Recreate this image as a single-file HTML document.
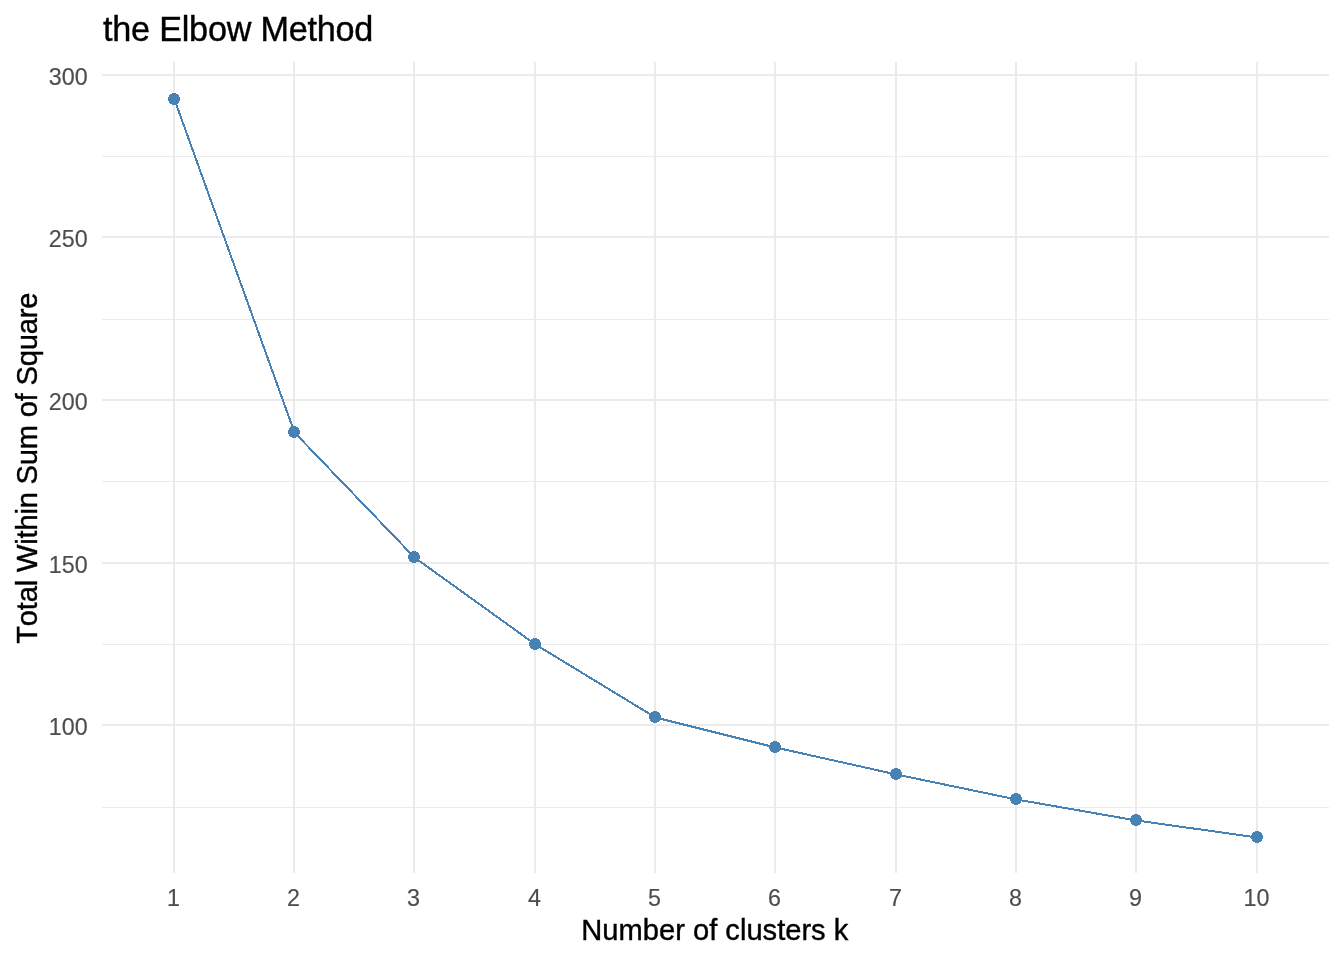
<!DOCTYPE html>
<html lang="en"><head><meta charset="utf-8"><title>the Elbow Method</title>
<style>
html,body{margin:0;padding:0;background:#fff;}
body{width:1344px;height:960px;overflow:hidden;}
svg{display:block;}
text{font-family:"Liberation Sans",Arial,Helvetica,sans-serif;font-kerning:none;font-variant-ligatures:none;}
.tick{font-size:23.3px;fill:#4D4D4D;stroke:#4D4D4D;stroke-width:0.15px;}
.axt{font-size:29.1px;fill:#000;stroke:#000;stroke-width:0.4px;}
.xt{letter-spacing:0.01px;}
.yt{letter-spacing:-0.18px;}
.ttl{font-size:34.2px;fill:#000;stroke:#000;stroke-width:0.4px;letter-spacing:-0.22px;}
</style></head><body>
<svg width="1344" height="960" viewBox="0 0 1344 960">
<rect x="0" y="0" width="1344" height="960" fill="#ffffff"/>
<g fill="#EBEBEB" shape-rendering="crispEdges">
<rect x="102" y="156" width="1227" height="1"/>
<rect x="102" y="319" width="1227" height="1"/>
<rect x="102" y="481" width="1227" height="1"/>
<rect x="102" y="644" width="1227" height="1"/>
<rect x="102" y="807" width="1227" height="1"/>
<rect x="102" y="74" width="1227" height="2"/>
<rect x="102" y="236" width="1227" height="2"/>
<rect x="102" y="399" width="1227" height="2"/>
<rect x="102" y="562" width="1227" height="2"/>
<rect x="102" y="724" width="1227" height="2"/>
<rect x="173" y="62" width="2" height="811"/>
<rect x="293" y="62" width="2" height="811"/>
<rect x="413" y="62" width="2" height="811"/>
<rect x="534" y="62" width="2" height="811"/>
<rect x="654" y="62" width="2" height="811"/>
<rect x="774" y="62" width="2" height="811"/>
<rect x="895" y="62" width="2" height="811"/>
<rect x="1015" y="62" width="2" height="811"/>
<rect x="1135" y="62" width="2" height="811"/>
<rect x="1256" y="62" width="2" height="811"/>
</g>
<polyline points="174.5,99.5 294.5,432.5 414.5,557.5 535.5,644.5 655.5,717.5 775.5,747.5 896.5,774.5 1016.5,799.5 1136.5,820.5 1257.5,837.5" fill="none" stroke="#4682B4" stroke-width="2" stroke-linejoin="round" stroke-linecap="butt" shape-rendering="crispEdges"/>
<g fill="#4682B4" shape-rendering="crispEdges">
<circle cx="174" cy="99" r="6"/>
<circle cx="294" cy="432" r="6"/>
<circle cx="414" cy="557" r="6"/>
<circle cx="535" cy="644" r="6"/>
<circle cx="655" cy="717" r="6"/>
<circle cx="775" cy="747" r="6"/>
<circle cx="896" cy="774" r="6"/>
<circle cx="1016" cy="799" r="6"/>
<circle cx="1136" cy="820" r="6"/>
<circle cx="1257" cy="837" r="6"/>
</g>
<g class="tick" text-anchor="end">
<text x="87.7" y="85.2">300</text>
<text x="87.7" y="247.2">250</text>
<text x="87.7" y="410.2">200</text>
<text x="87.7" y="573.2">150</text>
<text x="87.7" y="735.2">100</text>
</g>
<g class="tick" text-anchor="middle">
<text x="173.4" y="905.9">1</text>
<text x="293.4" y="905.9">2</text>
<text x="413.4" y="905.9">3</text>
<text x="534.4" y="905.9">4</text>
<text x="654.4" y="905.9">5</text>
<text x="774.4" y="905.9">6</text>
<text x="895.4" y="905.9">7</text>
<text x="1015.4" y="905.9">8</text>
<text x="1135.4" y="905.9">9</text>
<text x="1256.4" y="905.9">10</text>
</g>
<text class="ttl" x="103" y="40.6">the Elbow Method</text>
<text class="axt xt" x="714.85" y="940" text-anchor="middle">Number of clusters k</text>
<text class="axt yt" transform="translate(37.1,468.2) rotate(-90)" text-anchor="middle">Total Within Sum of Square</text>
</svg></body></html>
